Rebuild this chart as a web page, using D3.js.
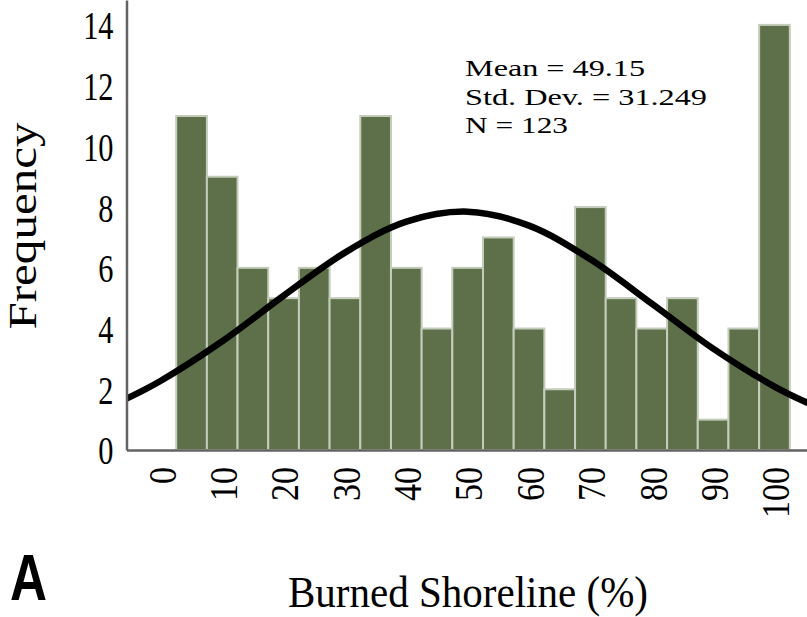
<!DOCTYPE html>
<html>
<head>
<meta charset="utf-8">
<script src="https://cdn.jsdelivr.net/npm/d3@7"></script>
<style>
  body { margin: 0; background: #fff; }
  svg { display: block; }
  text { fill: #000; }
</style>
</head>
<body>
<svg id="chart" width="807" height="617"></svg>
<script>
// histogram bins: centres (%) and counts
var binCentres = [5, 10, 15, 20, 25, 30, 35, 40, 45, 50, 55, 60, 65, 70, 75, 80, 85, 90, 95, 100];
var counts = [11, 9, 6, 5, 6, 5, 11, 6, 4, 6, 7, 4, 2, 8, 5, 4, 5, 1, 4, 14];
var binWidth = 5;

// fitted normal curve
var curveX = [-10, -5, 0, 10, 20, 30, 40, 50, 60, 70, 80, 90, 100, 105, 110];
var curveY = [1.31, 1.75, 2.28, 3.58, 5.08, 6.5, 7.52, 7.85, 7.39, 6.28, 4.82, 3.34, 2.09, 1.59, 1.18];

var xTicks = [0, 10, 20, 30, 40, 50, 60, 70, 80, 90, 100];
var yTicks = [0, 2, 4, 6, 8, 10, 12, 14];
var statLines = ["Mean = 49.15", "Std. Dev. = 31.249", "N = 123"];

var svg = d3.select("#chart");
// plot box (note: "top" is taken by window.top)
var plotLeft = 126.5, plotRight = 807, plotBottom = 450, plotTop = 0;

var x = d3.scaleLinear().domain([-5.6, 105.3]).range([plotLeft, plotRight]);
var y = d3.scaleLinear().domain([0, 14.82]).range([plotBottom, plotTop]);

svg.append("defs").append("clipPath").attr("id", "plot")
  .append("rect").attr("x", plotLeft).attr("y", plotTop)
  .attr("width", plotRight - plotLeft).attr("height", plotBottom - plotTop);

// bars
svg.append("g").selectAll("rect.bar")
  .data(counts)
  .enter()
  .append("rect")
    .attr("class", "bar")
    .attr("x", (d, i) => x(binCentres[i] - binWidth / 2))
    .attr("width", (d, i) => x(binCentres[i] + binWidth / 2) - x(binCentres[i] - binWidth / 2))
    .attr("y", d => y(d))
    .attr("height", d => y(0) - y(d))
    .style("fill", "#5d7049")
    .style("stroke", "#c4ccbb")
    .style("stroke-width", 2);

// normal curve
var line = d3.line()
  .x(d => x(d[0]))
  .y(d => y(d[1]))
  .curve(d3.curveCatmullRom);

svg.append("path")
  .datum(curveX.map((v, i) => [v, curveY[i]]))
  .attr("clip-path", "url(#plot)")
  .attr("d", line)
  .style("fill", "none")
  .style("stroke", "#000")
  .style("stroke-width", 6.5);

// axes
var yAxis = d3.axisLeft(y).tickValues(yTicks).tickSize(0).tickFormat(d3.format("d"));
var gy = svg.append("g").attr("transform", `translate(${plotLeft},0)`).call(yAxis);
gy.select(".domain").style("stroke", "#636363").style("stroke-width", 2.5);
gy.selectAll("text")
  .attr("x", 0)
  .attr("dy", "0.34em")
  .attr("transform", "translate(-13,0) scale(0.74,1)")
  .style("font-family", "Liberation Serif")
  .style("font-size", "41px")
  .style("fill", "#000");

var xAxis = d3.axisBottom(x).tickValues(xTicks).tickSize(0).tickFormat(d3.format("d"));
var gx = svg.append("g").attr("transform", `translate(0,${plotBottom})`).call(xAxis);
gx.select(".domain").style("stroke", "#636363").style("stroke-width", 2.5);
gx.selectAll("text")
  .attr("x", 0)
  .attr("y", 0)
  .attr("dy", "0.34em")
  .attr("text-anchor", "end")
  .attr("transform", "translate(1,17) scale(1.15,1) rotate(-90)")
  .style("font-family", "Liberation Serif")
  .style("font-size", "34px")
  .style("fill", "#000");

// statistics box
var statWidths = [180, 242, 103];
svg.append("g").selectAll("text")
  .data(statLines)
  .enter()
  .append("text")
    .attr("x", 465)
    .attr("y", (d, i) => 76 + i * 28.7)
    .attr("textLength", (d, i) => statWidths[i])
    .attr("lengthAdjust", "spacingAndGlyphs")
    .style("font-family", "Liberation Serif")
    .style("font-size", "23px")
    .text(d => d);

// axis titles
svg.append("text")
  .attr("transform", "translate(36,226) rotate(-90)")
  .attr("text-anchor", "middle")
  .attr("textLength", 207)
  .attr("lengthAdjust", "spacingAndGlyphs")
  .style("font-family", "Liberation Serif")
  .style("font-size", "41px")
  .text("Frequency");

svg.append("text")
  .attr("x", 468)
  .attr("y", 607)
  .attr("text-anchor", "middle")
  .attr("textLength", 360)
  .attr("lengthAdjust", "spacingAndGlyphs")
  .style("font-family", "Liberation Serif")
  .style("font-size", "45px")
  .text("Burned Shoreline (%)");

svg.append("text")
  .attr("transform", "translate(10,600) scale(0.8,1)")
  .style("font-family", "Liberation Sans")
  .style("font-weight", "bold")
  .style("font-size", "64px")
  .text("A");
</script>
</body>
</html>
